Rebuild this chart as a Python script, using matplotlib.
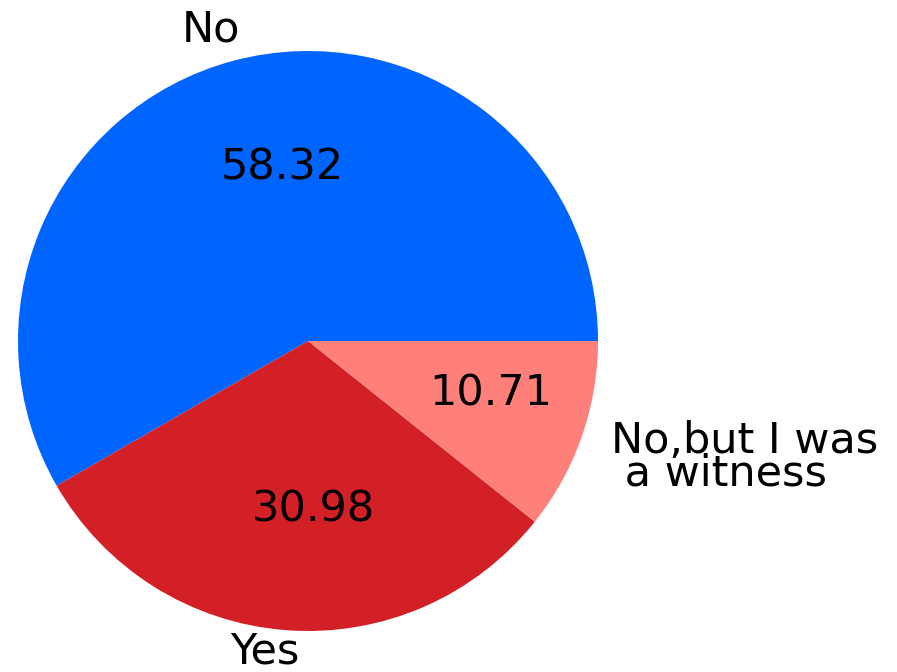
import matplotlib
matplotlib.use("Agg")
import matplotlib.pyplot as plt

labels = ["No", "Yes", "No,but I was\n a witness"]
values = [58.32, 30.98, 10.71]
colors = ["#0064FF", "#D32027", "#FF7F7A"]

plt.rcParams['font.family'] = ['DejaVu Sans']

fig = plt.figure(figsize=(8.97, 6.72), dpi=100)
W, H = 897, 672
cx, cy, r = 308, 341, 290
ax = fig.add_axes([(cx - r) / W, (H - cy - r) / H, 2 * r / W, 2 * r / H])

wedges, texts, autotexts = ax.pie(
    values, labels=labels, colors=colors, startangle=0, counterclock=True,
    autopct=lambda p: '', pctdistance=0.6, labeldistance=1.1,
    textprops={'fontsize': 31},
)

# value labels show the raw numbers
for t, v in zip(autotexts, values):
    t.set_text(f"{v:.2f}")
    t.set_fontsize(31)

texts[0].set_ha('center')
texts[0].set_position((-0.335, 1.075))
texts[1].set_ha('center')
texts[1].set_position((-0.15, -1.07))
texts[2].set_ha('left')
texts[2].set_va('center')
texts[2].set_linespacing(0.72)
texts[2].set_position((1.045, -0.40))

autotexts[0].set_position((-0.09, 0.6))
autotexts[1].set_position((0.02, -0.58))
autotexts[2].set_position((0.63, -0.18))

ax.set_xlim(-1, 1)
ax.set_ylim(-1, 1)
ax.set_aspect('equal')

plt.savefig('out.png', dpi=100)
